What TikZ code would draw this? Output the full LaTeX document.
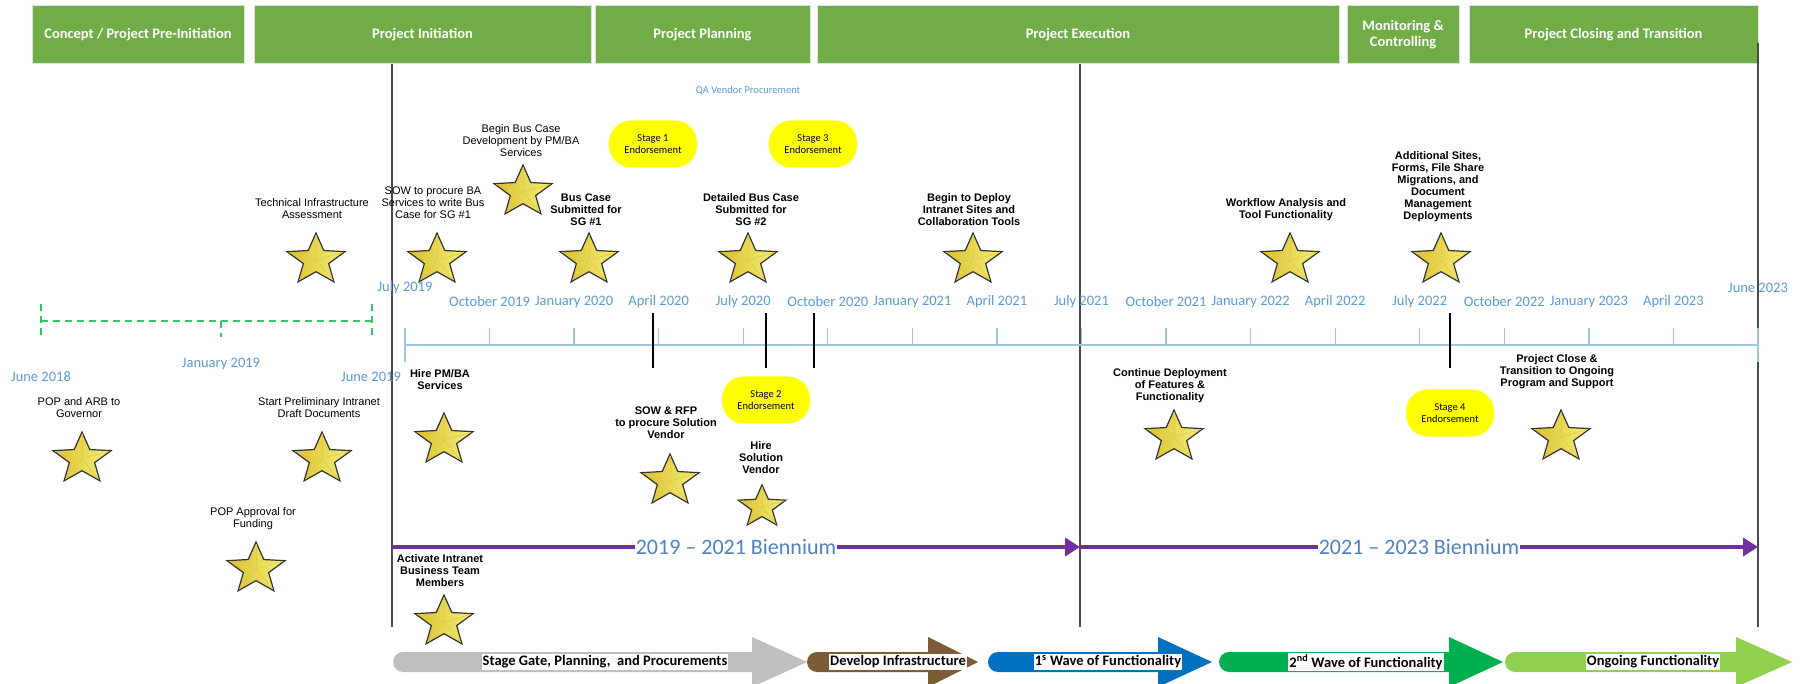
\documentclass[tikz,border=0pt]{standalone}
\usepackage{fontspec}
\setmainfont{Carlito}
\newfontfamily\arialfont{Liberation Sans}
\usetikzlibrary{arrows.meta}
\definecolor{phasegreen}{HTML}{70AD47}
\definecolor{datablue}{HTML}{5B9BD5}
\definecolor{axisblue}{HTML}{9DC3E6}
\definecolor{bienpurple}{HTML}{7030A0}
\definecolor{bientext}{HTML}{4F81BD}
\definecolor{dashgreen}{HTML}{3CC26A}
\definecolor{starlight}{HTML}{F6F07A}
\definecolor{stardark}{HTML}{D9BE2E}
\definecolor{stageyellow}{HTML}{FFFF00}
\definecolor{bargray}{HTML}{BFBFBF}
\definecolor{barbrown}{HTML}{7A5C36}
\definecolor{barblue}{HTML}{0070C0}
\definecolor{bargreen}{HTML}{00B050}
\definecolor{barlime}{HTML}{92D050}
\newcommand{\fsz}[2]{\fontsize{#1}{#2}\selectfont}

\tikzset{
    goldstar/.pic={
        \shadedraw[
            left color=stardark,
            right color=starlight,
            draw=black!80,
            line width=1.2pt
        ] (-90:30.5 and 27) -- (-54:13.3 and 11.7) -- (-18:30.5 and 27)
          -- (18:13.3 and 11.7) -- (54:30.5 and 27) -- (90:13.3 and 11.7)
          -- (126:30.5 and 27) -- (162:13.3 and 11.7) -- (198:30.5 and 27)
          -- (234:13.3 and 11.7) -- cycle;
        \foreach \ang in {-90,-18,...,198}
            \draw[stardark!70!starlight, line width=0.6pt] (0,0) -- (\ang:28.5 and 25);
    }
}

\begin{document}
\begin{tikzpicture}[
    x=1pt, y=-1pt,
    >=Stealth,
    phase/.style={fill=phasegreen, draw=black!12, line width=1pt, text=white,
        font=\bfseries\fsz{14.5}{16}, align=center, minimum height=58pt, inner sep=0pt},
    phaseline/.style={line width=1.4pt, black!70},
    axisline/.style={line width=1.3pt, axisblue},
    gatemark/.style={line width=2pt, black},
    predash/.style={line width=1.3pt, dashgreen, dash pattern=on 7pt off 5pt},
    datelbl/.style={font=\fsz{14.5}{16}, text=datablue, inner sep=0pt},
    evt/.style={font=\arialfont\fsz{11}{12}, align=center, inner sep=0pt},
    evb/.style={font=\arialfont\bfseries\fsz{11}{12}, align=center, inner sep=0pt},
    stagebox/.style={fill=stageyellow, rounded corners=22pt, minimum width=88pt,
        minimum height=47pt, align=center, font=\fsz{10.5}{12}, inner sep=0pt},
    bien/.style={-{Triangle[length=15pt, width=18pt]}, line width=4pt, bienpurple},
    bientxt/.style={fill=white, text=bientext, font=\fsz{22}{24}, inner xsep=1pt, inner ysep=0pt},
    bartxt/.style={fill=white, text=black, font=\bfseries\fsz{14.5}{16}, inner xsep=1pt, inner ysep=1.5pt}
]

\useasboundingbox (0,0) rectangle (1802,684);
\fill[white] (0,0) rectangle (1802,684);


% Phases

\node[phase, minimum width=212pt] (ph1) at (138,35) {Concept / Project Pre-Initiation};
\node[phase, minimum width=337pt] (ph2) at (422.5,35) {Project Initiation};
\node[phase, minimum width=215pt] (ph3) at (702.5,35) {Project Planning};
\node[phase, minimum width=522pt] (ph4) at (1078,35) {Project Execution};
\node[phase, minimum width=112pt] (ph5) at (1403,35) {Monitoring \&\\Controlling};
\node[phase, minimum width=289pt] (ph6) at (1613.5,35) {Project Closing and Transition};

\draw[phaseline] (392,64) -- (392,627);
\draw[phaseline] (1080,64) -- (1080,627);
\draw[phaseline] (1758,43) -- (1758,627);


% Pre-project dates

\draw[predash] (41,321) -- (372,321);
\draw[predash] (41,304) -- (41,338);
\draw[predash] (221,321) -- (221,337);
\draw[predash] (372,304) -- (372,338);

\node[datelbl] (jun18) at (41,377) {June 2018};
\node[datelbl] (jan19) at (221,364) {January 2019};
\node[datelbl] (jun19) at (371,377) {June 2019};


% Timeline

\draw[axisline] (405,345) -- (1758,345);
\draw[axisline] (405,328) -- (405,362);
\draw[axisline] (1758,328) -- (1758,362);
\foreach \k in {1,...,15}
    \draw[axisline] ({405+84.56*\k},345) -- ++(0,-17);

\node[datelbl] (jul19) at (405,288) {July 2019};
\node[datelbl] (jun23) at (1758,288) {June 2023};
\foreach \k/\dt in {1/October 2019, 2/January 2020, 3/April 2020, 4/July 2020,
        5/October 2020, 6/January 2021, 7/April 2021, 8/July 2021,
        9/October 2021, 10/January 2022, 11/April 2022, 12/July 2022,
        13/October 2022, 14/January 2023, 15/April 2023}
    \node[datelbl] (q\k) at ({405+84.56*\k},302) {\dt};


% Stage gates

\node[font=\fsz{10.5}{12}, text=datablue, inner sep=0pt] (qa) at (748,91) {QA Vendor Procurement};

\node[stagebox] (st1) at (653,144) {Stage 1\\Endorsement};
\node[stagebox] (st3) at (813,144) {Stage 3\\Endorsement};
\node[stagebox] (st2) at (766,400) {Stage 2\\Endorsement};
\node[stagebox] (st4) at (1450,413) {Stage 4\\Endorsement};

\draw[gatemark] (653,313) -- (653,368);
\draw[gatemark] (766,313) -- (766,368);
\draw[gatemark] (814,313) -- (814,368);
\draw[gatemark] (1450,313) -- (1450,368);


% Milestones above the timeline

\pic (tiastar) at (316,260) {goldstar};
\node[evt] (tia) at (312,209) {Technical Infrastructure\\Assessment};

\pic (sowstar) at (437,260) {goldstar};
\node[evt] (sow) at (433,203) {SOW to procure BA\\Services to write Bus\\Case for SG \#1};

\pic (bbcstar) at (523,192) {goldstar};
\node[evt] (bbc) at (521,141) {Begin Bus Case\\Development by PM/BA\\Services};

\pic (sg1star) at (589,260) {goldstar};
\node[evb] (sg1) at (586,210) {Bus Case\\Submitted for\\SG \#1};

\pic (sg2star) at (748,260) {goldstar};
\node[evb] (sg2) at (751,210) {Detailed Bus Case\\Submitted for\\SG \#2};

\pic (deplstar) at (973,260) {goldstar};
\node[evb] (depl) at (969,210) {Begin to Deploy\\Intranet Sites and\\Collaboration Tools};

\pic (wfastar) at (1290,260) {goldstar};
\node[evb] (wfa) at (1286,210) {Workflow Analysis and\\Tool Functionality};

\pic (addstar) at (1441,260) {goldstar};
\node[evb] (add) at (1438,187) {Additional Sites,\\Forms, File Share\\Migrations, and\\Document\\Management\\Deployments};


% Milestones below the timeline

\pic (popstar) at (82,459) {goldstar};
\node[evt] (pop) at (79,408) {POP and ARB to\\Governor};

\pic (prelstar) at (322,459) {goldstar};
\node[evt] (prel) at (319,408) {Start Preliminary Intranet\\Draft Documents};

\pic (fundstar) at (256,569) {goldstar};
\node[evt] (fund) at (253,519) {POP Approval for\\Funding};

\pic (pmbastar) at (444,440) {goldstar};
\node[evb] (pmba) at (440,380) {Hire PM/BA\\Services};

\pic (teamstar) at (444,622) {goldstar};
\node[evb] (team) at (440,571) {Activate Intranet\\Business Team\\Members};

\pic (rfpstar) at (670,481) {goldstar};
\node[evb] (rfp) at (666,423) {SOW \& RFP\\to procure Solution\\Vendor};

\pic[scale=0.82] (vendstar) at (762,507) {goldstar};
\node[evb] (vend) at (761,458) {Hire\\Solution\\Vendor};

\pic (contstar) at (1174,437) {goldstar};
\node[evb] (cont) at (1170,386) {Continue Deployment\\of Features \&\\Functionality};

\pic (closestar) at (1561,437) {goldstar};
\node[evb] (close) at (1557,372) {Project Close \&\\Transition to Ongoing\\Program and Support};


% Biennia

\coordinate (b0) at (392,547);
\coordinate (b1) at (1080,547);
\coordinate (b2) at (1758,547);

\draw[bien] (b0) -- (b1) node[midway, bientxt] (bien1) {2019 -- 2021 Biennium};
\draw[bien] (b1) -- (b2) node[midway, bientxt] (bien2) {2021 -- 2023 Biennium};


% Work streams

\fill[bargray] (752,672) -- (403,672) arc[start angle=90, end angle=270, radius=10]
    -- (752,652) -- (752,637) -- (807,662) -- (752,687) -- cycle;
\node[bartxt] (wsgate) at (605,662) {Stage Gate, Planning,\ \ and Procurements};

\fill[barbrown] (928,672) -- (817,672) arc[start angle=90, end angle=270, radius=10]
    -- (928,652) -- (928,637) -- (978,662) -- (928,687) -- cycle;
\node[bartxt] (wsinfra) at (898,662) {Develop Infrastructure};

\fill[barblue] (1158,672) -- (998,672) arc[start angle=90, end angle=270, radius=10]
    -- (1158,652) -- (1158,637) -- (1212,662) -- (1158,687) -- cycle;
\node[bartxt] (wswave1) at (1108,662) {1\textsuperscript{s} Wave of Functionality};

\fill[bargreen] (1449,672) -- (1229,672) arc[start angle=90, end angle=270, radius=10]
    -- (1449,652) -- (1449,637) -- (1503,662) -- (1449,687) -- cycle;
\node[bartxt] (wswave2) at (1366,662) {2\textsuperscript{nd} Wave of Functionality};

\fill[barlime] (1736,672) -- (1515,672) arc[start angle=90, end angle=270, radius=10]
    -- (1736,652) -- (1736,637) -- (1792,662) -- (1736,687) -- cycle;
\node[bartxt] (wsongo) at (1653,662) {Ongoing Functionality};

\end{tikzpicture}
\end{document}
